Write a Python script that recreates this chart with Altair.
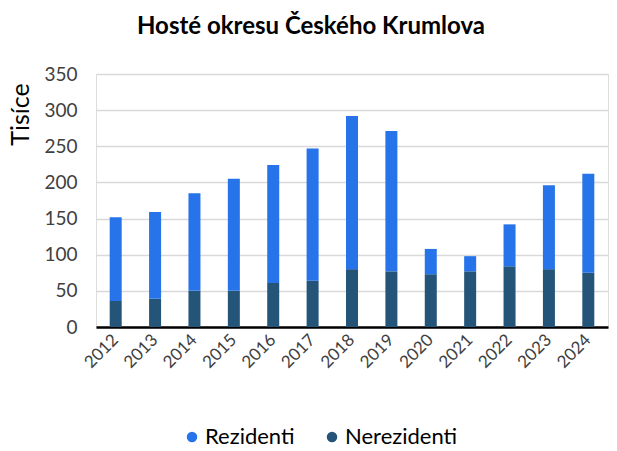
import altair as alt
import pandas as pd

years = ["2012", "2013", "2014", "2015", "2016", "2017", "2018",
         "2019", "2020", "2021", "2022", "2023", "2024"]
nerezidenti = [36, 39, 50, 50, 61, 64, 80, 77, 73, 77, 84, 80, 75]
rezidenti = [116, 120, 135, 155, 163, 183, 212, 194, 35, 21, 58, 116, 137]
series = ["Rezidenti", "Nerezidenti"]
colors = ["#2673EA", "#245478"]

rows = []
for i, y in enumerate(years):
    rows.append({"rok": y, "skupina": "Nerezidenti", "hodnota": nerezidenti[i], "ord": 0})
    rows.append({"rok": y, "skupina": "Rezidenti", "hodnota": rezidenti[i], "ord": 1})
df = pd.DataFrame(rows)

FONT = "Lato"

chart = alt.Chart(df).mark_bar(size=12).encode(
    x=alt.X("rok:N", sort=years, title=None,
            axis=alt.Axis(labelAngle=-45, labelAlign="right", labelBaseline="middle",
                          labelPadding=10, labelFontSize=17, labelColor="#404040",
                          labelFont=FONT, ticks=False, domainColor="#000000",
                          domainWidth=2.5)),
    y=alt.Y("hodnota:Q", stack="zero", title="Tisíce",
            scale=alt.Scale(domain=[0, 350], nice=False),
            axis=alt.Axis(values=[0, 50, 100, 150, 200, 250, 300, 350],
                          labelFontSize=19, labelColor="#404040", labelFont=FONT,
                          labelPadding=19, ticks=False, domain=False,
                          gridColor="#d9d9d9", gridWidth=1.5,
                          titleFont=FONT, titleFontSize=25, titleFontWeight="normal",
                          titleColor="#000000", titleAngle=-90,
                          titleX=-68, titleY=40, titleAlign="center",
                          titleBaseline="alphabetic")),
    color=alt.Color("skupina:N",
                    scale=alt.Scale(domain=series, range=colors),
                    legend=alt.Legend(title=None, orient="none", direction="horizontal",
                                      legendX=85, legendY=352, symbolType="circle",
                                      symbolSize=110, labelFontSize=22, labelFont=FONT,
                                      labelColor="#000000", columnPadding=26,
                                      labelOffset=2)),
    order=alt.Order("ord:Q"),
).properties(
    width=512,
    height=253,
    padding={"left": 96, "top": 74, "right": 9, "bottom": 124},
    autosize=alt.AutoSizeParams(type="none"),
    title=alt.TitleParams("Hosté okresu Českého Krumlova", font=FONT, fontSize=24,
                          fontWeight="bold", color="#000000", anchor="middle",
                          dx=-41, offset=26),
).configure_view(stroke=None).configure(background="white")

chart.save("out.html", embed_options={"renderer": "svg", "actions": False})
